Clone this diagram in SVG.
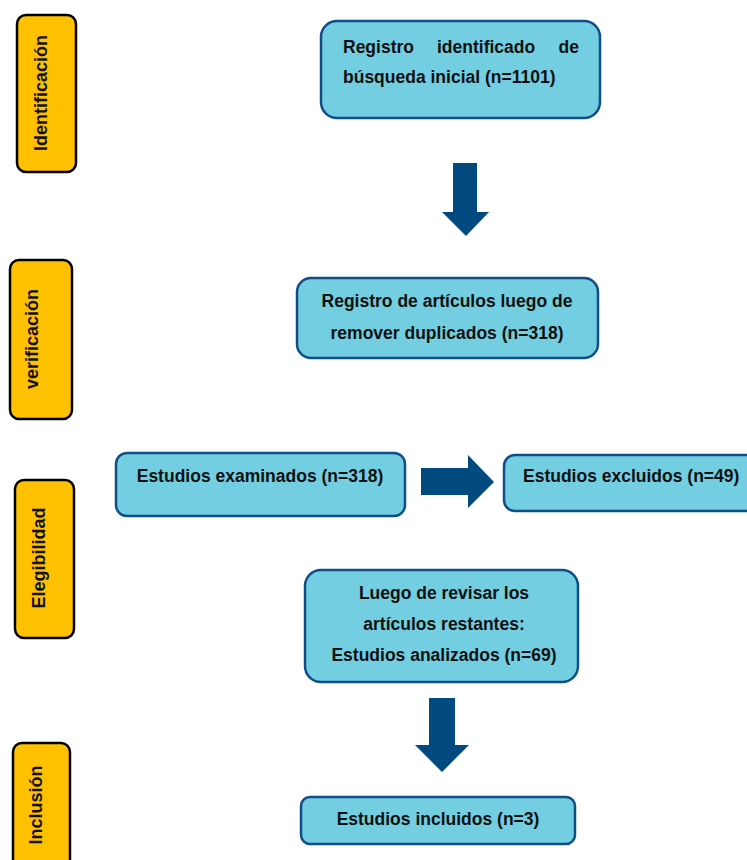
<svg xmlns="http://www.w3.org/2000/svg" width="747" height="860" viewBox="0 0 747 860">
<style>
.box{fill:#72CEE0;stroke:#0F4F86;stroke-width:2.5}
.lab{fill:#FFC000;stroke:#000;stroke-width:2.5}
.t{font-family:"Liberation Sans",Arial,sans-serif;font-weight:bold;font-size:17.5px;fill:#111}
.lt{font-family:"Liberation Sans",Arial,sans-serif;font-weight:bold;font-size:18px;fill:#111}
.arr{fill:#004A80}
</style>
<rect width="747" height="860" fill="#fff"/>
<g id="label-identificacion">
<rect class="lab" x="17" y="15" width="59" height="157" rx="9"/>
<text class="lt" text-anchor="middle" transform="translate(47,93) rotate(-90)">Identificación</text>
</g>
<g id="label-verificacion">
<rect class="lab" x="10" y="260" width="62" height="159" rx="9"/>
<text class="lt" text-anchor="middle" transform="translate(38,339) rotate(-90)">verificación</text>
</g>
<g id="label-elegibilidad">
<rect class="lab" x="15" y="480" width="59" height="158" rx="9"/>
<text class="lt" text-anchor="middle" transform="translate(45,558) rotate(-90)">Elegibilidad</text>
</g>
<g id="label-inclusion">
<rect class="lab" x="13" y="743" width="57" height="140" rx="9"/>
<text class="lt" text-anchor="middle" transform="translate(42,805) rotate(-90)">Inclusión</text>
</g>
<g id="n1">
<rect class="box" x="321" y="21" width="279" height="97" rx="16"/>
<text class="t" x="343" y="53">Registro</text>
<text class="t" x="437" y="53">identificado</text>
<text class="t" x="579" y="53" text-anchor="end">de</text>
<text class="t" x="343" y="83">búsqueda inicial (n=1101)</text>
</g>
<g id="n2">
<rect class="box" x="297" y="278" width="301" height="80" rx="14"/>
<text class="t" x="447" y="307" text-anchor="middle">Registro de artículos luego de</text>
<text class="t" x="447" y="339" text-anchor="middle">remover duplicados (n=318)</text>
</g>
<g id="n3">
<rect class="box" x="116" y="453" width="289" height="63" rx="11"/>
<text class="t" x="260" y="482" text-anchor="middle">Estudios examinados (n=318)</text>
</g>
<g id="n4">
<rect class="box" x="504" y="455" width="260" height="56" rx="11"/>
<text class="t" x="523" y="482">Estudios excluidos (n=49)</text>
</g>
<g id="n5">
<rect class="box" x="305" y="570" width="273" height="112" rx="16"/>
<text class="t" x="444" y="599" text-anchor="middle">Luego de revisar los</text>
<text class="t" x="444" y="630" text-anchor="middle">artículos restantes:</text>
<text class="t" x="444" y="661" text-anchor="middle">Estudios analizados (n=69)</text>
</g>
<g id="n6">
<rect class="box" x="301" y="797" width="274" height="47" rx="9"/>
<text class="t" x="438" y="825" text-anchor="middle">Estudios incluidos (n=3)</text>
</g>
<g id="connectors">
<polygon class="arr" points="453,163 477,163 477,212 489,212 466,236 442,212 453,212"/>
<polygon class="arr" points="421,468 468,468 468,455 494,482 468,508 468,495 421,495"/>
<polygon class="arr" points="429,698 455,698 455,745 469,745 442,772 415,745 429,745"/>
</g>
</svg>
